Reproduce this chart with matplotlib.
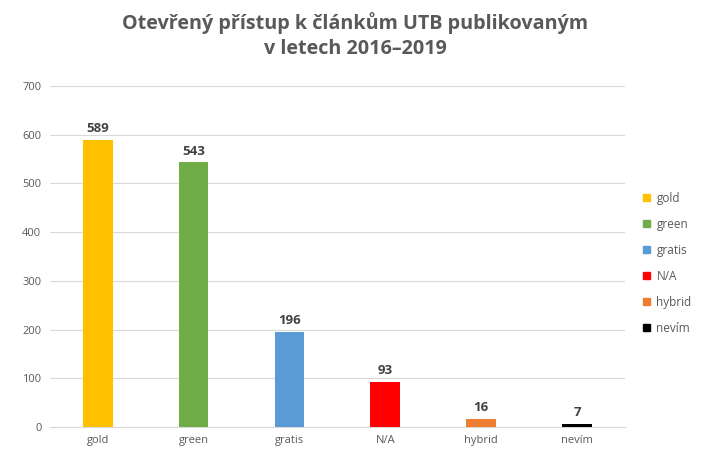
import matplotlib
matplotlib.use("Agg")
import matplotlib.pyplot as plt
from matplotlib.patches import Patch

categories = ["gold", "green", "gratis", "N/A", "hybrid", "nevím"]
values = [589, 543, 196, 93, 16, 7]
colors = ["#FFC000", "#70AD47", "#5B9BD5", "#FF0000", "#ED7D31", "#000000"]
yticks = [0, 100, 200, 300, 400, 500, 600, 700]

plt.rcParams["font.family"] = "Open Sans"
fig = plt.figure(figsize=(7.11, 4.62), dpi=100)
ax = fig.add_axes([0.070, 0.0758, 0.809, 0.738])
x = range(len(categories))
ax.bar(x, values, width=0.31, color=colors, zorder=3)
for xi, v in zip(x, values):
    ax.text(xi, v + 10, str(v), ha="center", va="bottom", fontsize=9.5,
            fontweight="bold", color="#404040")
ax.set_xlim(-0.5, len(categories) - 0.5)
ax.set_ylim(0, 700)
ax.set_yticks(yticks)
ax.set_xticks(list(x))
ax.set_xticklabels(categories)
ax.grid(axis="y", color="#D9D9D9", linewidth=0.8, zorder=0)
for s in ["top", "right", "left"]:
    ax.spines[s].set_visible(False)
ax.spines["bottom"].set_color("#D9D9D9")
ax.tick_params(axis="both", length=0, labelsize=8, colors="#595959", pad=6)
fig.suptitle("Otevřený přístup k článkům UTB publikovaným\nv letech 2016–2019",
             y=0.975, fontsize=14.2, fontweight="bold", color="#595959",
             linespacing=1.35)
handles = [Patch(color=c) for c in colors]
fig.legend(handles, categories, loc="center left", bbox_to_anchor=(0.89, 0.43),
           frameon=False, fontsize=8.5, labelcolor="#595959",
           handlelength=0.6, handleheight=0.6, labelspacing=1.1, handletextpad=0.5)
fig.savefig("out.png", dpi=100)
